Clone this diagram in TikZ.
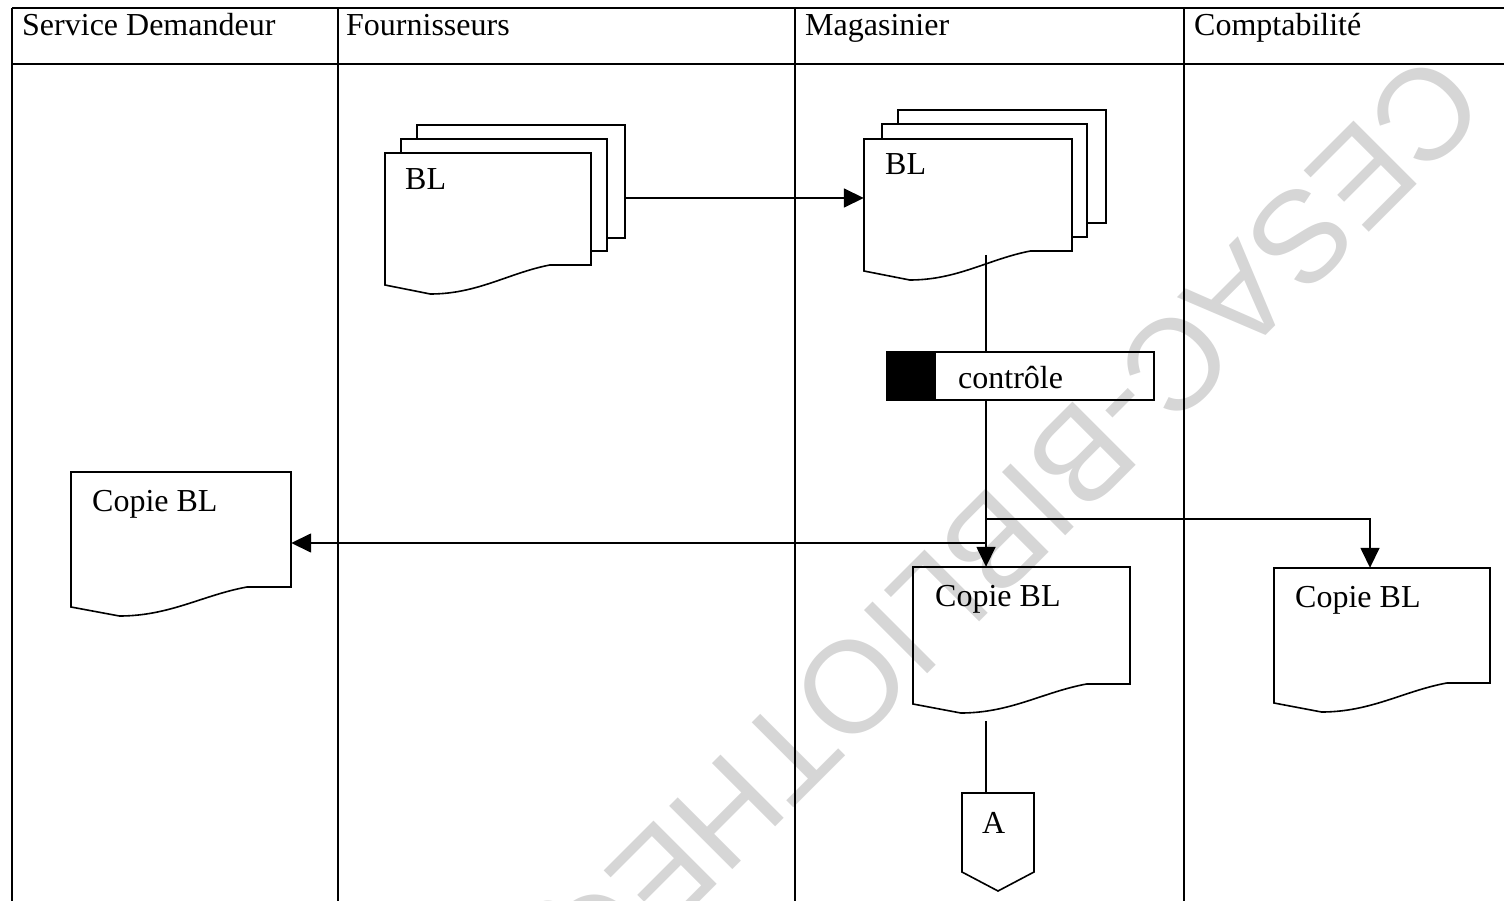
\documentclass[tikz,border=0pt]{standalone}
\usepackage{fontspec}
\setmainfont{Liberation Serif}
\newfontfamily\wmfont{Liberation Sans}
\usetikzlibrary{arrows.meta}
\tikzset{
  ln/.style={line width=1.6pt},
  lane/.style={line width=1.4pt},
  arr/.style={line width=1.6pt, -{Triangle[length=20pt,width=19pt]}},
  docline/.style={draw, fill=white, line width=1.6pt, line join=miter},
  lbl/.style={anchor=base west, inner sep=0pt},
}
% name, x, y, w, h  (y downward, h = height at right side)
\newcommand\mydoc[5]{%
  \path[docline] (#2,{#3+#5+20}) -- (#2,#3) -- ({#2+#4},#3) -- ({#2+#4},{#3+#5})
     -- ({#2+0.8*#4},{#3+#5}) .. controls ({#2+0.6*#4},{#3+#5+8}) and ({#2+0.45*#4},{#3+#5+29}) .. ({#2+0.22*#4},{#3+#5+29}) -- cycle;
  \node[inner sep=0pt, minimum width=#4pt, minimum height={#5pt+29pt}] (#1) at ({#2+#4/2},{#3+(#5+29)/2}) {};
}
\begin{document}
\begin{tikzpicture}[x=1pt, y=-1pt, every node/.style={font=\fontsize{32}{38}\selectfont}]
\useasboundingbox (0,0) rectangle (1504,901);
\fill[white] (0,0) rectangle (1504,901);

% swimlanes
\draw[lane] (12,8) -- (1504,8);
\draw[lane] (12,64) -- (1504,64);
\draw[lane] (12,8) -- (12,901);
\draw[lane] (338,8) -- (338,901);
\draw[lane] (795,8) -- (795,901);
\draw[lane] (1184,8) -- (1184,901);
\node[lbl] (h1) at (22,36) {Service Demandeur};
\node[lbl] (h2) at (346,36) {Fournisseurs};
\node[lbl] (h3) at (805,36) {Magasinier};
\node[lbl] (h4) at (1194,36) {Comptabilité};

% Fournisseurs BL stack
\mydoc{fBL3}{417}{125}{208}{113}
\mydoc{fBL2}{401}{139}{206}{112}
\mydoc{fBL}{385}{153}{206}{112}
\node[lbl] (tfBL) at (405,190) {BL};

% Magasinier BL stack
\mydoc{mBL3}{898}{110}{208}{113}
\mydoc{mBL2}{882}{124}{205}{113}
\mydoc{mBL}{864}{139}{208}{112}
\node[lbl] (tmBL) at (885,175) {BL};

% controle
\node[draw, line width=1.6pt, inner sep=0pt, minimum width=267pt, minimum height=48pt] (ctrl) at (1020.5,376) {};
\fill[black] (ctrl.north west) rectangle ([xshift=50pt]ctrl.south west);
\node[lbl] (tctrl) at (958,388) {contrôle};

% copies
\mydoc{sCopy}{71}{472}{220}{115}
\node[lbl] (tsCopy) at (92,511) {Copie BL};
\mydoc{mCopy}{913}{567}{217}{117}
\node[lbl] (tmCopy) at (935,606) {Copie BL};
\mydoc{cCopy}{1274}{568}{216}{115}
\node[lbl] (tcCopy) at (1295,607) {Copie BL};

% off-page connector
\path[docline] (962,793) -- (1034,793) -- (1034,872) -- (998,891) -- (962,872) -- cycle;
\node[inner sep=0pt, minimum width=72pt, minimum height=98pt] (offA) at (998,842) {};
\node[lbl] (tA) at (982,833) {A};

% connectors
\coordinate (m1) at (986,255);
\coordinate (j1) at (986,519);
\coordinate (j2) at (986,543);
\coordinate (m2) at (986,721);
\draw[arr] ([yshift=11.5pt]mBL.west -| fBL3.east) -- ([yshift=11.5pt]mBL.west);
\draw[ln] (m1) -- (m1 |- ctrl.north);
\draw[arr] (m1 |- ctrl.south) -- (m1 |- mCopy.north);
\draw[arr] (j1) -| ([xshift=-12pt]cCopy.north);
\draw[arr] (j2) -- (j2 -| sCopy.east);
\draw[ln] (m2) -- (m2 |- offA.north);

% watermark
\node[rotate=225, text=black, text opacity=0.16, inner sep=0pt, font=\wmfont\fontsize{130}{130}\selectfont] (wm) at (938,584) {CESAC-BIBLIOTHEQUE};
\end{tikzpicture}
\end{document}
